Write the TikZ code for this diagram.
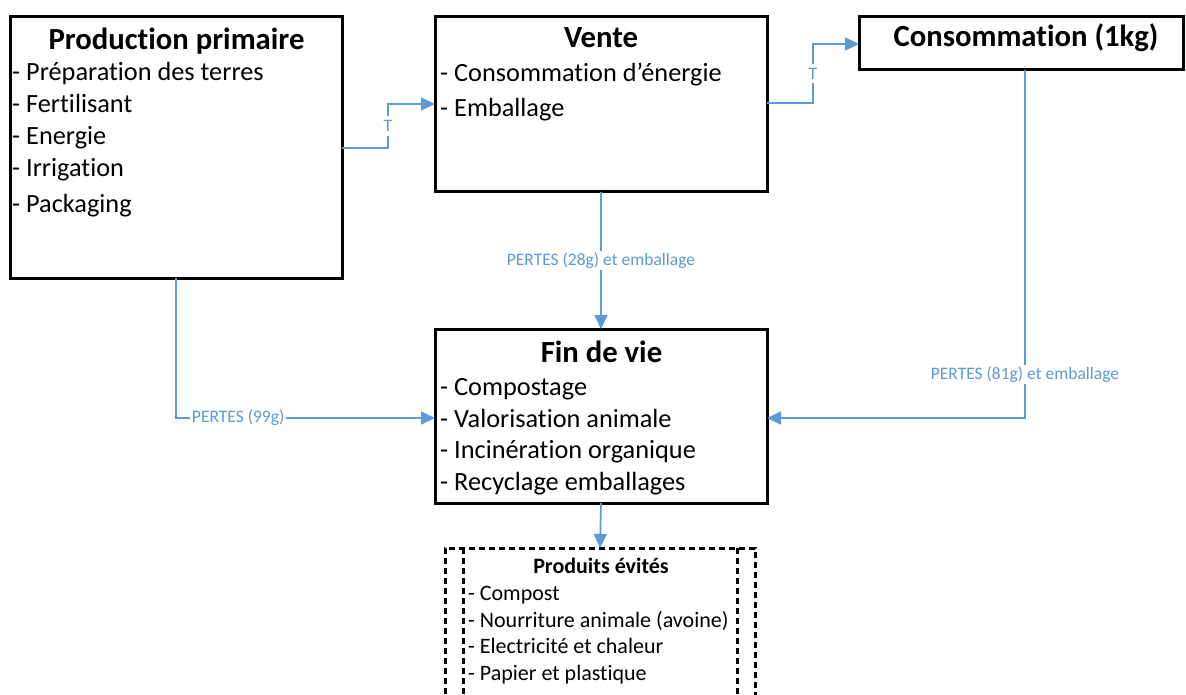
\documentclass[tikz,border=0pt]{standalone}
\usepackage{fontspec}
\setmainfont[Ligatures=NoCommon]{Carlito}
\usetikzlibrary{arrows.meta}
\definecolor{flow}{RGB}{91,155,213}

\begin{document}
\begin{tikzpicture}[x=1pt,y=-1pt,
  stage/.style={draw=black, line width=3pt, fill=white, anchor=north west,
                inner sep=0pt, outer sep=0pt},
  avoidbox/.style={draw=black, line width=3pt, dash pattern=on 6pt off 4pt,
                   anchor=north west, inner sep=0pt, outer sep=0pt},
  conn/.style={draw=flow, line width=1.7pt, -{Triangle[length=14pt,width=13pt]}},
  head/.style={font=\fontsize{30.7}{36}\selectfont\bfseries, anchor=base, inner sep=0pt},
  item/.style={font=\fontsize{26.3}{30}\selectfont, anchor=base west, inner sep=0pt},
  smallhead/.style={font=\fontsize{22}{26}\selectfont\bfseries, anchor=base, inner sep=0pt},
  smallitem/.style={font=\fontsize{22}{26}\selectfont, anchor=base west, inner sep=0pt},
  flowlbl/.style={font=\fontsize{17.5}{20}\selectfont, text=flow, fill=white, inner sep=1.5pt},
  tlbl/.style={flowlbl, inner xsep=2pt, inner ysep=4pt},
]
\useasboundingbox (0,0) rectangle (1186,695);

% stage boxes
\node[stage, minimum width=332pt, minimum height=261pt] (prod) at (10,17) {};
\node[stage, minimum width=332pt, minimum height=175pt] (vente) at (435,17) {};
\node[stage, minimum width=324pt, minimum height=53pt] (conso) at (859,17) {};
\node[stage, minimum width=332pt, minimum height=174pt] (fin) at (435,329) {};
\node[avoidbox, minimum width=310pt, minimum height=200pt] (avoid) at (445,548) {};
\draw[line width=3pt, dash pattern=on 6pt off 4pt]
  ([xshift=18pt]avoid.north west) -- ([xshift=18pt]avoid.south west)
  ([xshift=-18pt]avoid.north east) -- ([xshift=-18pt]avoid.south east);

% Production primaire
\node[head] (prodT) at (176.5,50) {Production primaire};
\node[item] (prod1) at (12,81) {- Préparation des terres};
\node[item] (prod2) at (12,113) {- Fertilisant};
\node[item] (prod3) at (12,145) {- Energie};
\node[item] (prod4) at (12,177) {- Irrigation};
\node[item] (prod5) at (12,213) {- Packaging};

% Vente
\node[head] (venteT) at (601,48) {Vente};
\node[item] (vente1) at (440,82) {- Consommation d’énergie};
\node[item] (vente2) at (440,117) {- Emballage};

% Consommation
\node[head] (consoT) at (1026,47) {Consommation (1kg)};

% Fin de vie
\node[head] (finT) at (601.5,362) {Fin de vie};
\node[item] (fin1) at (440,395) {- Compostage};
\node[item] (fin2) at (440,427) {- Valorisation animale};
\node[item] (fin3) at (440,458) {- Incinération organique};
\node[item] (fin4) at (440,490) {- Recyclage emballages};

% Produits évités
\node[smallhead] (avoidT) at (601,573) {Produits évités};
\node[smallitem] (avoid1) at (468,600) {- Compost};
\node[smallitem] (avoid2) at (468,627) {- Nourriture animale (avoine)};
\node[smallitem] (avoid3) at (468,653) {- Electricité et chaleur};
\node[smallitem] (avoid4) at (468,680) {- Papier et plastique};

% bend points
\coordinate (k1) at (388,148);
\coordinate (k2) at (388,104);
\coordinate (k3) at (813,103);
\coordinate (k4) at (813,44);
\coordinate (k5) at (176,418);
\coordinate (k6) at (1025,418);

% flows
\draw[conn] (prod.east |- k1) -- (k1) -- node[tlbl] {T} (k2) -- (vente.west |- k2);
\draw[conn] (vente.east |- k3) -- (k3) -- node[tlbl] {T} (k4) -- (conso.west |- k4);
\draw[conn] (vente.south) -- node[flowlbl] {PERTES (28g) et emballage} (fin.north);
\draw[conn] (prod.south -| k5) -- (k5) -- node[flowlbl, pos=0.24] {PERTES (99g)} (fin.west |- k5);
\draw[conn] (conso.south -| k6) -- node[flowlbl, pos=0.876] {PERTES (81g) et emballage} (k6) -- (fin.east |- k6);
\draw[conn] (fin.south) -- (avoid.north);
\end{tikzpicture}
\end{document}
